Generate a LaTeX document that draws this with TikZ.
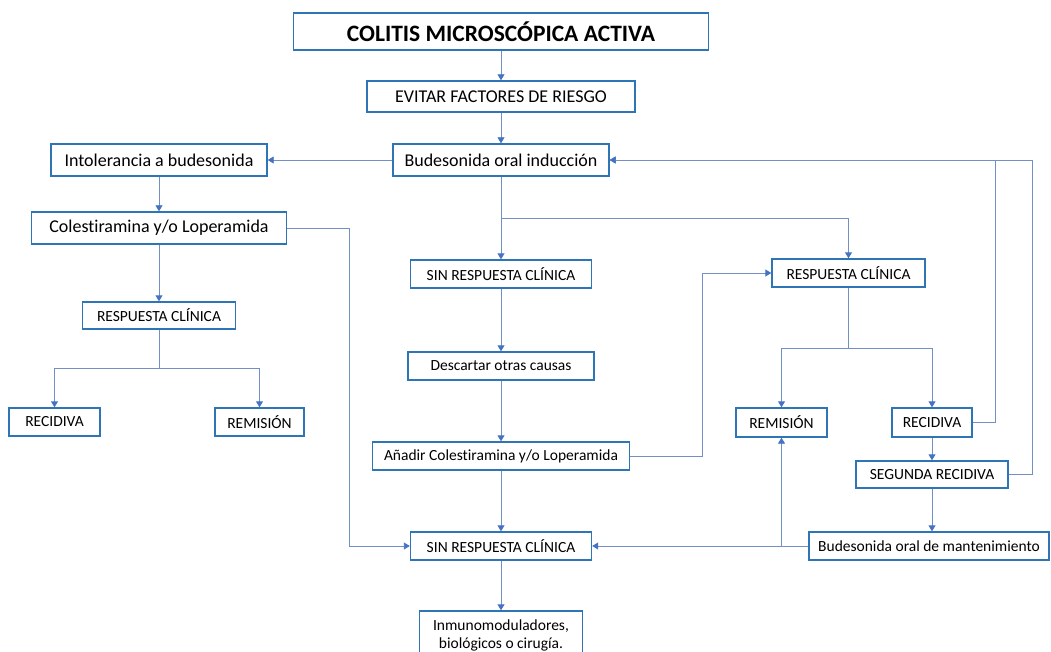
\documentclass[tikz,border=0pt]{standalone}
\usepackage{fontspec}
\setmainfont{Carlito}[Ligatures=NoCommon]
\usetikzlibrary{arrows.meta}
\definecolor{boxblue}{HTML}{2E75B6}
\definecolor{linkblue}{HTML}{7390C4}
\definecolor{tipblue}{HTML}{4472C4}
\begin{document}
\begin{tikzpicture}[x=1pt,y=-1pt,
  box/.style={draw=boxblue,line width=1.4pt,fill=white,inner sep=0pt,align=center,font=\fontsize{15.5}{18}\selectfont},
  big/.style={font=\fontsize{18}{21}\selectfont},
  link/.style={draw=linkblue,line width=0.9pt,-{Triangle[width=7pt,length=6pt,color=tipblue,fill=tipblue]}},
  plain/.style={draw=linkblue,line width=0.9pt}]
\useasboundingbox (0,0) rectangle (1051,652);
\clip (0,0) rectangle (1051,652);
% nodes
\node[box,minimum width=415,minimum height=37,font=\fontsize{23.5}{27}\selectfont\bfseries] (title) at (501,31.5) {COLITIS MICROSCÓPICA ACTIVA};
\node[box,minimum width=268,minimum height=31,font=\fontsize{18}{21}\selectfont] (evitar) at (501,96.5) {EVITAR FACTORES DE RIESGO};
\node[box,big,minimum width=216,minimum height=32] (budi) at (501,160) {Budesonida oral inducción};
\node[box,big,minimum width=216,minimum height=32] (intol) at (159,160) {Intolerancia a budesonida};
\node[box,big,minimum width=255,minimum height=32] (coles) at (159,228) {Colestiramina y/o Loperamida};
\node[box,minimum width=153,minimum height=27] (respL) at (159,315.5) {RESPUESTA CLÍNICA};
\node[box,minimum width=91,minimum height=28] (recL) at (54.5,422) {RECIDIVA};
\node[box,minimum width=89,minimum height=28] (remL) at (259.5,422) {REMISIÓN};
\node[box,minimum width=181,minimum height=28] (sin1) at (501,274) {SIN RESPUESTA CLÍNICA};
\node[box,minimum width=186,minimum height=28] (desc) at (501,366) {Descartar otras causas};
\node[box,minimum width=257,minimum height=28] (anad) at (501,456) {Añadir Colestiramina y/o Loperamida};
\node[box,minimum width=153,minimum height=28] (respR) at (848.5,273) {RESPUESTA CLÍNICA};
\node[box,minimum width=91,minimum height=29] (remR) at (781.5,422.5) {REMISIÓN};
\node[box,minimum width=80,minimum height=29] (recR) at (932,422.5) {RECIDIVA};
\node[box,minimum width=152,minimum height=27] (seg) at (932,474.5) {SEGUNDA RECIDIVA};
\node[box,minimum width=181,minimum height=28] (sin2) at (501,546) {SIN RESPUESTA CLÍNICA};
\node[box,minimum width=240,minimum height=28] (mant) at (929,546) {Budesonida oral de mantenimiento};
\node[box,minimum width=163,minimum height=48] (inmu) at (501,635) {Inmunomoduladores,\\biológicos o cirugía.};
% connectors
\draw[link] (title.south) -- (evitar.north);
\draw[link] (evitar.south) -- (budi.north);
\draw[link] (budi.west) -- (intol.east);
\draw[link] (intol.south) -- (coles.north);
\draw[link] (coles.south) -- (respL.north);
\draw[link] (coles.east) -- ++(62,0) |- (sin2.west);
\draw[link] (respL.south) -- ++(0,39) -| (recL.north);
\draw[link] (respL.south) -- ++(0,39) -| (remL.north);
\draw[link] (budi.south) -- (sin1.north);
\draw[link] (budi.south) -- ++(0,42) -| (respR.north);
\draw[link] (sin1.south) -- (desc.north);
\draw[link] (desc.south) -- (anad.north);
\draw[link] (anad.south) -- (sin2.north);
\draw[link] (anad.east) -- ++(72,0) |- (respR.west);
\draw[link] (respR.south) -- ++(0,61) -| (remR.north);
\draw[link] (respR.south) -- ++(0,61) -| (recR.north);
\draw[link] (recR.east) -- ++(23,0) |- (budi.east);
\draw[link] (seg.east) -- ++(24,0) |- (budi.east);
\draw[link] (recR.south) -- (seg.north);
\draw[link] (seg.south) -- (seg.south |- mant.north);
\draw[link] (mant.west) -- (sin2.east);
\draw[link] (mant.west) -| (remR.south);
\draw[link] (sin2.south) -- (inmu.north);
\end{tikzpicture}
\end{document}
